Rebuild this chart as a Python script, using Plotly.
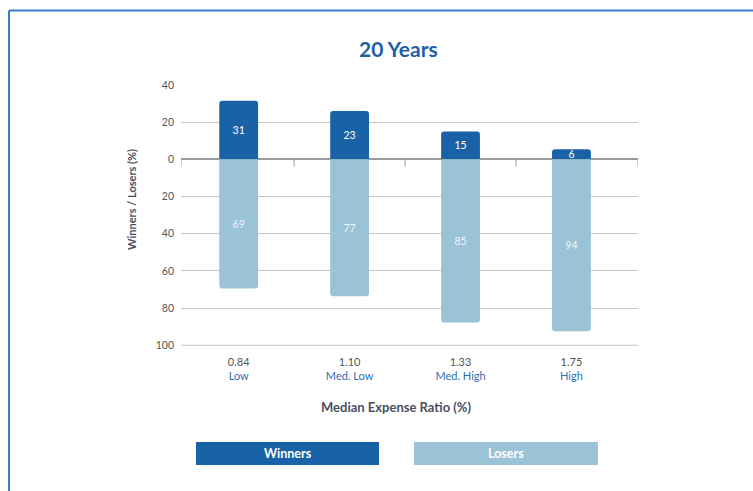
import plotly.graph_objects as go

# ---- data ----
ratios = ["0.84", "1.10", "1.33", "1.75"]
levels = ["Low", "Med. Low", "Med. High", "High"]
winners_label = [31, 23, 15, 6]
losers_label = [69, 77, 85, 94]
# bar heights as drawn in the picture
winners_bar = [31.5, 26, 15, 5.5]
losers_bar = [69.5, 73.7, 87.7, 92.5]
y_ticks = [40, 20, 0, -20, -40, -60, -80, -100]
y_ticktext = ["40", "20", "0", "20", "40", "60", "80", "100"]

DARK = "#1a62a8"
LIGHT = "#9ac3d6"
FONT = "Lato"

W, H = 753, 491
L, R, T, B = 181, 638, 85, 346


def px(x):
    return (x - L) / (R - L)


def py(y):
    return (B - y) / (B - T)


xs = list(range(len(ratios)))

fig = go.Figure()
fig.add_trace(go.Bar(
    x=xs, y=winners_bar, width=0.35, marker_color=DARK, marker_line_width=0,
    text=[str(v) for v in winners_label], textposition="inside",
    insidetextanchor="middle", textangle=0,
    textfont=dict(color="white", size=10.5, family=FONT),
    name="Winners", hoverinfo="skip"))
fig.add_trace(go.Bar(
    x=xs, y=[-v for v in losers_bar], width=0.35, marker_color=LIGHT, marker_line_width=0,
    text=[str(v) for v in losers_label], textposition="inside",
    insidetextanchor="middle", textangle=0,
    textfont=dict(color="#eef5f8", size=10.5, family=FONT),
    name="Losers", hoverinfo="skip"))

ticktext = [f"{r}<br><span style='color:#2e6fb3'>{lv}</span>" for r, lv in zip(ratios, levels)]

fig.update_layout(
    width=W, height=H,
    margin=dict(l=L, r=W - R, t=T, b=H - B, pad=0),
    paper_bgcolor="white", plot_bgcolor="white",
    barmode="relative", barcornerradius=3,
    showlegend=False,
    uniformtext=dict(minsize=10.5, mode="show"),
    font=dict(family=FONT, color="#555"),
    xaxis=dict(range=[-0.52, 3.6], tickvals=xs, ticktext=ticktext,
               showgrid=False, zeroline=False, showline=False, ticks="",
               ticklabelstandoff=8,
               tickfont=dict(size=11, color="#555", family=FONT)),
    yaxis=dict(range=[-100.4, 40], tickvals=y_ticks, ticktext=y_ticktext,
               showgrid=True, gridcolor="#c6c6c6", gridwidth=1,
               zeroline=True, zerolinecolor="#9a9a9a", zerolinewidth=2,
               ticks="", ticklabelstandoff=6,
               tickfont=dict(size=10.5, color="#555", family=FONT)),
)

# bottom gridline (edge of range)
fig.add_shape(type="line", xref="x domain", yref="y", x0=0, x1=1,
              y0=y_ticks[-1], y1=y_ticks[-1], layer="below",
              line=dict(color="#c6c6c6", width=1))

# zero-line tick marks at category boundaries
for xb in [-0.52, 0.5, 1.5, 2.5, 3.6]:
    fig.add_shape(type="line", xref="x", yref="y", x0=xb, x1=xb,
                  ysizemode="pixel", yanchor=0, y0=0, y1=-7,
                  line=dict(color="#9a9a9a", width=1))


def note(text, x, y, size, color, angle=0):
    fig.add_annotation(text=text, xref="paper", yref="paper",
                       x=px(x), y=py(y), showarrow=False, textangle=angle,
                       xanchor="center", yanchor="middle",
                       font=dict(size=size, color=color, family=FONT))


# title and axis titles
note("<b>20 Years</b>", 398, 49, 21, "#1f5fa6")
note("<b>Median Expense Ratio (%)</b>", 396, 407, 13, "#4a4f5e")
note("<b>Winners / Losers (%)</b>", 131, 200, 11, "#4a4f5e", angle=-90)

# legend boxes
for (x0, x1, col, name) in [(196, 379, DARK, "Winners"), (414, 598, LIGHT, "Losers")]:
    fig.add_shape(type="rect", xref="paper", yref="paper",
                  x0=px(x0), x1=px(x1), y0=py(465), y1=py(442),
                  fillcolor=col, line=dict(width=0))
    note(f"<b>{name}</b>", (x0 + x1) / 2, 453.5, 12.5, "white")

# outer frame (top and left border)
fig.add_shape(type="line", xref="paper", yref="paper",
              x0=px(9), x1=px(760), y0=py(10.5), y1=py(10.5),
              line=dict(color="#3a7cc9", width=2))
fig.add_shape(type="line", xref="paper", yref="paper",
              x0=px(9), x1=px(9), y0=py(10.5), y1=py(500),
              line=dict(color="#3a7cc9", width=2))

fig.write_html("out.html")
